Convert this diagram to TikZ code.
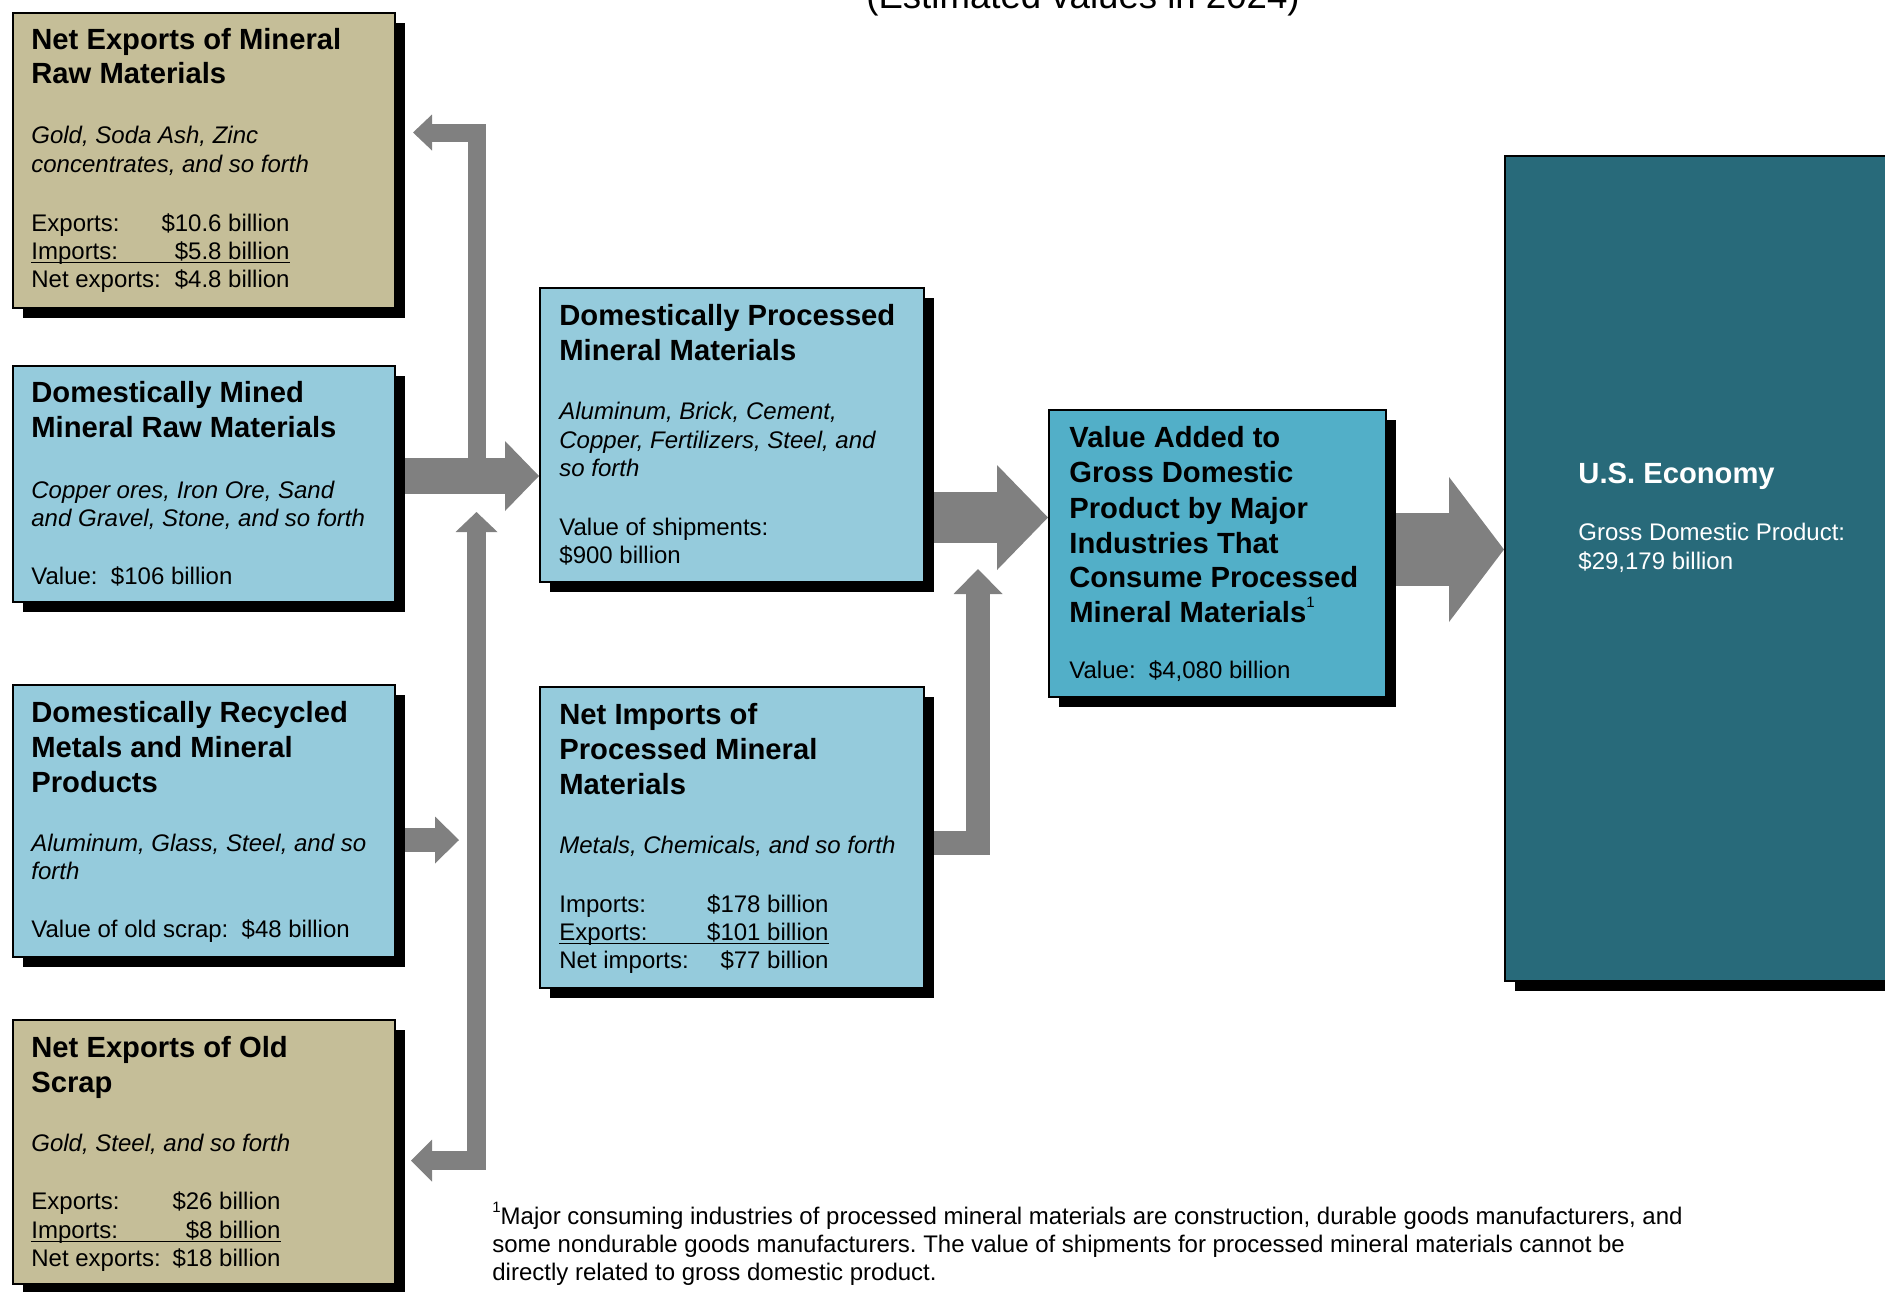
\documentclass[tikz,border=0pt]{standalone}
\usepackage{fontspec}
\setmainfont{Liberation Sans}
\usetikzlibrary{arrows.meta,shadows,calc,backgrounds}
\definecolor{tanbox}{HTML}{C5BE98}
\definecolor{lblue}{HTML}{95CBDC}
\definecolor{mblue}{HTML}{52AFC8}
\definecolor{dteal}{HTML}{286A7A}
\definecolor{agray}{HTML}{808080}
\frenchspacing
\tikzset{
  box/.style={draw=black, line width=1pt, anchor=north west, inner sep=0pt,
    drop shadow={shadow xshift=5pt, shadow yshift=-5pt, opacity=1, fill=black}},
  ttl/.style={anchor=base west, inner sep=0pt, font=\fontsize{14.6}{17}\selectfont\bfseries},
  bdy/.style={anchor=base west, inner sep=0pt, font=\fontsize{12}{14}\selectfont},
  itl/.style={anchor=base west, inner sep=0pt, font=\fontsize{12}{14}\selectfont\itshape},
  val/.style={anchor=base east, inner sep=0pt, font=\fontsize{12}{14}\selectfont},
  conn/.style={draw=agray, line cap=butt, line join=miter},
  uline/.style={draw=black, line width=0.8pt},
}
\newcommand{\supone}{\raisebox{0.5em}{\fontsize{7.5}{8}\selectfont\mdseries 1}}
\begin{document}
\begin{tikzpicture}[x=0.5pt,y=-0.5pt]
\useasboundingbox (0,0) rectangle (1885,1291);
% ---------- boxes ----------
\node[box, fill=tanbox, minimum width=191pt, minimum height=147.5pt] (b1) at (12,12) {};
\node[box, fill=lblue, minimum width=191pt, minimum height=118pt] (b2) at (12,365) {};
\node[box, fill=lblue, minimum width=191pt, minimum height=136pt] (b3) at (12,684) {};
\node[box, fill=tanbox, minimum width=191pt, minimum height=132pt] (b4) at (12,1019) {};
\node[box, fill=lblue, minimum width=192pt, minimum height=147pt] (b5) at (539,287) {};
\node[box, fill=lblue, minimum width=192pt, minimum height=150.5pt] (b6) at (539,686) {};
\node[box, fill=mblue, minimum width=168.5pt, minimum height=143.5pt] (b7) at (1048,409) {};
\node[box, fill=dteal, minimum width=200pt, minimum height=412.5pt] (b8) at (1504,155) {};
% ---------- helper coordinates ----------
\coordinate (yA) at (0,476);
\coordinate (yT) at (0,132.5);
\coordinate (yB) at (0,1160.5);
\coordinate (y3) at (0,840);
\coordinate (y5) at (0,517.5);
\coordinate (y6) at (0,843);
\coordinate (y7) at (0,549.5);
\coordinate (jt) at (476.5,476);
\coordinate (jb) at (476.5,512);
\coordinate (t3) at (459,840);
\coordinate (t6) at (978,569);
% ---------- connectors ----------
\begin{scope}[on background layer]
\draw[conn, line width=18pt, -{Triangle[length=17pt,width=35pt,line width=0pt]}]
  (b2.east |- yA) -- (b5.west |- yA);
\draw[conn, line width=9pt, -{Triangle[length=9.5pt,width=18pt,line width=0pt]}]
  (jt) |- ($(b1.east |- yT)+(17,0)$);
\draw[conn, line width=9.5pt, {Triangle[length=10.5pt,width=21pt,line width=0pt]}-{Triangle[length=10pt,width=21pt,line width=0pt]}]
  ($(b4.east |- yB)+(15,0)$) -| (jb);
\draw[conn, line width=12pt, -{Triangle[length=12pt,width=23.5pt,line width=0pt]}]
  (b3.east |- y3) -- (t3);
\draw[conn, line width=25.5pt, -{Triangle[length=25.5pt,width=52.5pt,line width=0pt]}]
  (b5.east |- y5) -- (b7.west |- y5);
\draw[conn, line width=12.25pt, -{Triangle[length=12.5pt,width=24.5pt,line width=0pt]}]
  (b6.east |- y6) -| (t6);
\draw[conn, line width=36.5pt, -{Triangle[length=27.5pt,width=72.5pt,line width=0pt]}]
  (b7.east |- y7) -- (b8.west |- y7);
\end{scope}
% ---------- header ----------
\node[anchor=base, inner sep=0pt, font=\fontsize{18.3}{22}\selectfont] (hdr) at (1083,8) {(Estimated values in 2024)};
% ---------- box 1 ----------
\node[ttl] (t1a) at (31,49) {Net Exports of Mineral};
\node[ttl] (t1b) at (31,83) {Raw Materials};
\node[itl] (i1a) at (31,143) {Gold, Soda Ash, Zinc};
\node[itl] (i1b) at (31,172) {concentrates, and so forth};
\node[bdy] (l1a) at (31,231) {Exports:};
\node[val] (v1a) at (290,231) {\$10.6 billion};
\node[bdy] (l1b) at (31,259) {Imports:};
\node[val] (v1b) at (290,259) {\$5.8 billion};
\node[bdy] (l1c) at (31,287) {Net exports:};
\node[val] (v1c) at (290,287) {\$4.8 billion};
\draw[uline] ([yshift=-1.75pt]l1b.base west) -- ([yshift=-1.75pt]v1b.base east);
% ---------- box 2 ----------
\node[ttl] (t2a) at (31,402) {Domestically Mined};
\node[ttl] (t2b) at (31,437) {Mineral Raw Materials};
\node[itl] (i2a) at (31,498) {Copper ores, Iron Ore, Sand};
\node[itl] (i2b) at (31,526) {and Gravel, Stone, and so forth};
\node[bdy] (l2a) at (31,584) {Value:\ \ \$106 billion};
% ---------- box 3 ----------
\node[ttl] (t3a) at (31,722) {Domestically Recycled};
\node[ttl] (t3b) at (31,757) {Metals and Mineral};
\node[ttl] (t3c) at (31,792) {Products};
\node[itl] (i3a) at (31,851) {Aluminum, Glass, Steel, and so};
\node[itl] (i3b) at (31,879) {forth};
\node[bdy] (l3a) at (31,937) {Value of old scrap:\ \ \$48 billion};
% ---------- box 4 ----------
\node[ttl] (t4a) at (31,1057) {Net Exports of Old};
\node[ttl] (t4b) at (31,1092) {Scrap};
\node[itl] (i4a) at (31,1151) {Gold, Steel, and so forth};
\node[bdy] (l4a) at (31,1209) {Exports:};
\node[val] (v4a) at (281,1209) {\$26 billion};
\node[bdy] (l4b) at (31,1238) {Imports:};
\node[val] (v4b) at (281,1238) {\$8 billion};
\node[bdy] (l4c) at (31,1266) {Net exports:};
\node[val] (v4c) at (281,1266) {\$18 billion};
\draw[uline] ([yshift=-1.75pt]l4b.base west) -- ([yshift=-1.75pt]v4b.base east);
% ---------- box 5 ----------
\node[ttl] (t5a) at (559,325) {Domestically Processed};
\node[ttl] (t5b) at (559,360) {Mineral Materials};
\node[itl] (i5a) at (559,419) {Aluminum, Brick, Cement,};
\node[itl] (i5b) at (559,448) {Copper, Fertilizers, Steel, and};
\node[itl] (i5c) at (559,476) {so forth};
\node[bdy] (l5a) at (559,535) {Value of shipments:};
\node[bdy] (l5b) at (559,563) {\$900 billion};
% ---------- box 6 ----------
\node[ttl] (t6a) at (559,724) {Net Imports of};
\node[ttl] (t6b) at (559,759) {Processed Mineral};
\node[ttl] (t6c) at (559,794) {Materials};
\node[itl] (i6a) at (559,853) {Metals, Chemicals, and so forth};
\node[bdy] (l6a) at (559,912) {Imports:};
\node[val] (v6a) at (829,912) {\$178 billion};
\node[bdy] (l6b) at (559,940) {Exports:};
\node[val] (v6b) at (829,940) {\$101 billion};
\node[bdy] (l6c) at (559,968) {Net imports:};
\node[val] (v6c) at (829,968) {\$77 billion};
\draw[uline] ([yshift=-1.75pt]l6b.base west) -- ([yshift=-1.75pt]v6b.base east);
% ---------- box 7 ----------
\node[ttl] (t7a) at (1069,447) {Value Added to};
\node[ttl] (t7b) at (1069,482) {Gross Domestic};
\node[ttl] (t7c) at (1069,518) {Product by Major};
\node[ttl] (t7d) at (1069,553) {Industries That};
\node[ttl] (t7e) at (1069,587) {Consume Processed};
\node[ttl] (t7f) at (1069,622) {Mineral Materials\supone};
\node[bdy] (l7a) at (1069,678) {Value:\ \ \$4,080 billion};
% ---------- box 8 ----------
\node[ttl, text=white] (t8a) at (1578,483) {U.S. Economy};
\node[bdy, text=white] (l8a) at (1578,540) {Gross Domestic Product:};
\node[bdy, text=white] (l8b) at (1578,569) {\$29,179 billion};
% ---------- footnote ----------
\node[bdy] (f1) at (492,1224) {\supone Major consuming industries of processed mineral materials are construction, durable goods manufacturers, and};
\node[bdy] (f2) at (492,1252) {some nondurable goods manufacturers. The value of shipments for processed mineral materials cannot be};
\node[bdy] (f3) at (492,1280) {directly related to gross domestic product.};
\end{tikzpicture}
\end{document}
